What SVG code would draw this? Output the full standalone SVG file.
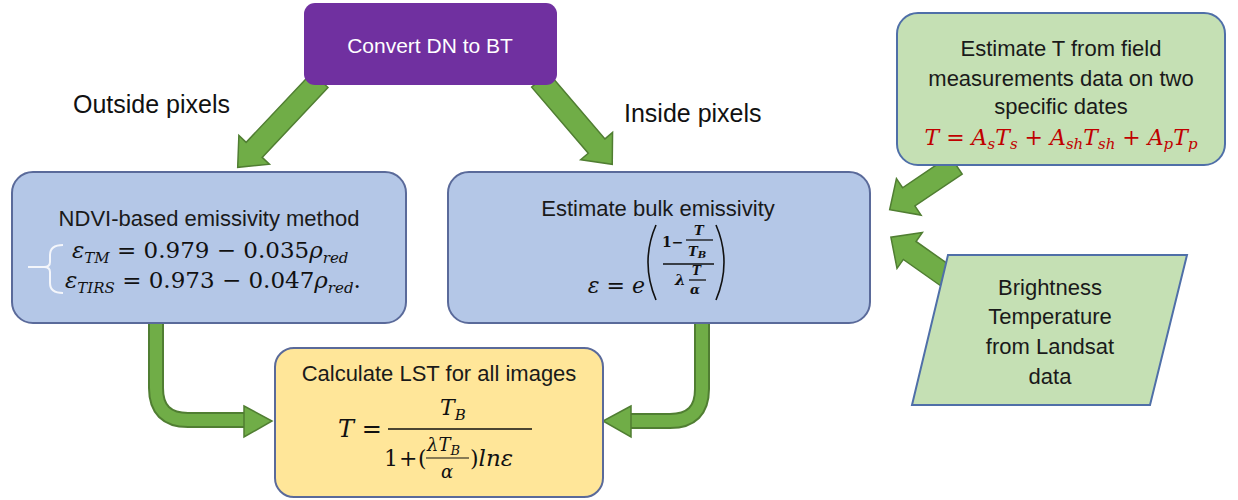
<svg xmlns="http://www.w3.org/2000/svg" width="1238" height="500" viewBox="0 0 1238 500">
<defs>
<style>
.t{font-family:"Liberation Sans",Arial,sans-serif;font-size:22px;fill:#1a1a1a;text-anchor:middle}
.lbl{font-family:"Liberation Sans",Arial,sans-serif;font-size:25px;fill:#111}
.m{font-family:"DejaVu Serif","Liberation Serif",serif;fill:#111}
.i{font-style:italic}
.blue{fill:#b4c7e7;stroke:#5a6a9a;stroke-width:2}
.yel{fill:#ffe699;stroke:#5a6a9a;stroke-width:2}
.grn{fill:#c5e0b4;stroke:#4f6fa8;stroke-width:2}
.arr{fill:#70ad47;stroke:#507e32;stroke-width:1.5;stroke-linejoin:miter}
.fl{stroke:#111;stroke-width:1.3}
</style>
</defs>
<rect width="1238" height="500" fill="#ffffff"/>

<g id="connectors">
  <path class="arr" transform="translate(320,80) rotate(133.3)" d="M0,-11 H96 V-21 L120,0 L96,21 V11 H0 Z"/>
  <path class="arr" transform="translate(540,80) rotate(49.4)" d="M0,-11 H87 V-21 L111,0 L87,21 V11 H0 Z"/>
  <path class="arr" transform="translate(956,165) rotate(146)" d="M0,-11 H57 V-22 L80,0 L57,22 V11 H0 Z"/>
  <path class="arr" transform="translate(953,281) rotate(-144.8)" d="M0,-11 H53 V-22 L76,0 L53,22 V11 H0 Z"/>
  <path d="M156,322 V388 Q156,420 188,420 H246" fill="none" stroke="#507e32" stroke-width="16"/>
  <path d="M156,322 V388 Q156,420 188,420 H247" fill="none" stroke="#70ad47" stroke-width="12"/>
  <path class="arr" d="M244,406 L272,421 L244,437 Z"/>
  <path d="M702,322 V389 Q702,421 670,421 H630" fill="none" stroke="#507e32" stroke-width="16"/>
  <path d="M702,322 V389 Q702,421 670,421 H629" fill="none" stroke="#70ad47" stroke-width="12"/>
  <path class="arr" d="M631,406 L603,421 L631,437 Z"/>
</g>

<g id="convert">
  <rect x="304" y="3" width="253" height="82" rx="11" fill="#7030a0"/>
  <text class="t" x="430" y="53" style="fill:#ffffff;font-size:21px">Convert DN to BT</text>
</g>

<g id="label-outside">
  <text class="lbl" x="73" y="113">Outside pixels</text>
</g>
<g id="label-inside">
  <text class="lbl" x="624" y="122">Inside pixels</text>
</g>

<g id="ndvi">
  <rect class="blue" x="12" y="172" width="394" height="151" rx="21"/>
  <text class="t" x="209" y="226">NDVI-based emissivity method</text>
  <path d="M63,245 Q50,245 50,255 V262 Q50,267 44,267 H28 M44,267 Q50,267 50,272 V283 Q50,293 63,293" fill="none" stroke="#f4f6fb" stroke-width="2"/>
  <text class="m" x="72" y="258" font-size="23"><tspan class="i">ε</tspan><tspan class="i" font-size="15" dy="5">TM</tspan><tspan dy="-5"> = 0.979 − 0.035</tspan><tspan class="i">ρ</tspan><tspan class="i" font-size="15" dy="5">red</tspan></text>
  <text class="m" x="65" y="288" font-size="23"><tspan class="i">ε</tspan><tspan class="i" font-size="15" dy="5">TIRS</tspan><tspan dy="-5"> = 0.973 − 0.047</tspan><tspan class="i">ρ</tspan><tspan class="i" font-size="15" dy="5">red</tspan><tspan dy="-5">.</tspan></text>
</g>

<g id="bulk">
  <rect class="blue" x="448" y="172" width="422" height="151" rx="21"/>
  <text class="t" x="658" y="216">Estimate bulk emissivity</text>
  <text class="m" x="645" y="293" font-size="22" text-anchor="end"><tspan class="i">ε</tspan> = <tspan class="i">e</tspan></text>
  <path d="M656,225 Q640,262 656,300" fill="none" stroke="#111" stroke-width="1.6"/>
  <path d="M716,225 Q732,262 716,300" fill="none" stroke="#111" stroke-width="1.6"/>
  <text class="m" x="662" y="247" font-size="14" font-weight="bold">1−</text>
  <text class="m i" x="694" y="235" font-size="13" font-weight="bold">T</text>
  <line class="fl" x1="686" y1="240" x2="713" y2="240"/>
  <text class="m i" x="688" y="256" font-size="13" font-weight="bold">T<tspan font-size="10" dy="2">B</tspan></text>
  <line class="fl" x1="663" y1="264" x2="714" y2="264"/>
  <text class="m i" x="675" y="285" font-size="15" font-weight="bold">λ</text>
  <text class="m i" x="692" y="275" font-size="12" font-weight="bold">T</text>
  <line class="fl" x1="689" y1="280" x2="706" y2="280"/>
  <text class="m i" x="690" y="294" font-size="13" font-weight="bold">α</text>
</g>

<g id="lst">
  <rect class="yel" x="275" y="348" width="328" height="149" rx="19"/>
  <text class="t" x="439" y="381">Calculate LST for all images</text>
  <text class="m" x="338" y="437" font-size="24"><tspan class="i">T</tspan> =</text>
  <line x1="388" y1="429" x2="532" y2="429" stroke="#111" stroke-width="1.4"/>
  <text class="m i" x="440" y="415" font-size="22">T<tspan font-size="15" dy="5">B</tspan></text>
  <text class="m" x="384" y="466" font-size="22">1</text>
  <text class="m" x="399" y="466" font-size="22">+</text>
  <text class="m" x="418" y="466" font-size="22">(</text>
  <text class="m i" x="427" y="451" font-size="18">λT<tspan font-size="13" dy="4">B</tspan></text>
  <line x1="426" y1="458" x2="469" y2="458" stroke="#111" stroke-width="1.2"/>
  <text class="m i" x="441" y="478" font-size="18">α</text>
  <text class="m" x="470" y="466" font-size="22">)<tspan class="i" font-size="23">lnε</tspan></text>
</g>

<g id="field">
  <rect class="grn" x="897" y="13" width="328" height="152" rx="21"/>
  <text class="t" x="1061" y="56">Estimate T from field</text>
  <text class="t" x="1061" y="86">measurements data on two</text>
  <text class="t" x="1061" y="114">specific dates</text>
  <text class="m i" x="1061" y="145" font-size="22" text-anchor="middle" style="fill:#c00000">T<tspan font-style="normal"> = </tspan>A<tspan font-size="15" dy="4">s</tspan><tspan dy="-4">T</tspan><tspan font-size="15" dy="4">s</tspan><tspan dy="-4" font-style="normal"> + </tspan>A<tspan font-size="15" dy="4">sh</tspan><tspan dy="-4">T</tspan><tspan font-size="15" dy="4">sh</tspan><tspan dy="-4" font-style="normal"> + </tspan>A<tspan font-size="15" dy="4">p</tspan><tspan dy="-4">T</tspan><tspan font-size="15" dy="4">p</tspan></text>
</g>

<g id="brightness">
  <polygon class="grn" points="948,255 1187,255 1150,405 912,405"/>
  <text class="t" x="1050" y="295">Brightness</text>
  <text class="t" x="1050" y="324">Temperature</text>
  <text class="t" x="1050" y="354">from Landsat</text>
  <text class="t" x="1050" y="384">data</text>
</g>
</svg>
